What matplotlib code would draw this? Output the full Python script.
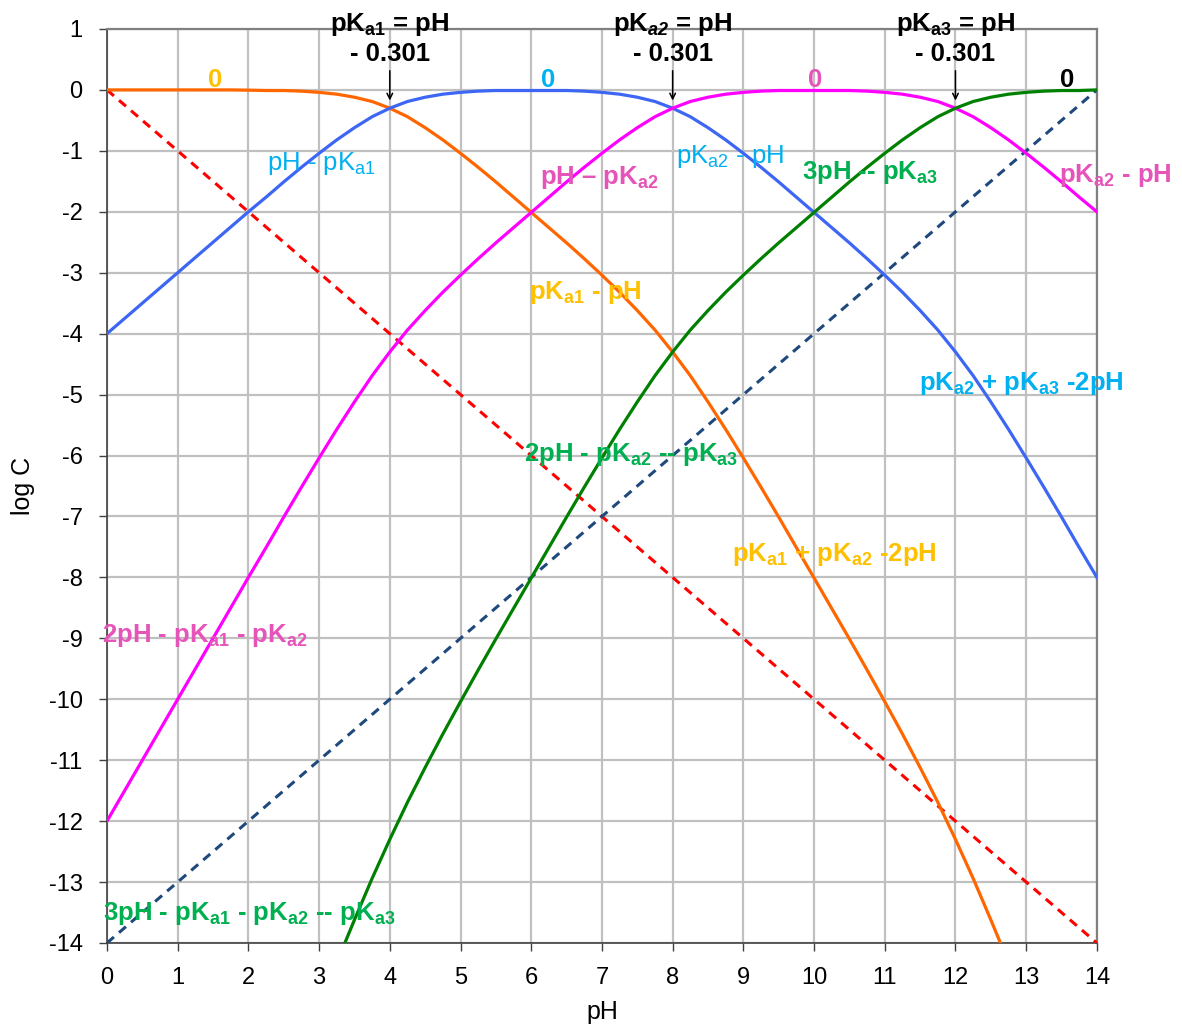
import matplotlib
matplotlib.use('Agg')
import matplotlib.pyplot as plt

plt.rcParams['font.family'] = ['Liberation Sans', 'DejaVu Sans']
plt.rcParams['mathtext.fontset'] = 'custom'
plt.rcParams['mathtext.rm'] = 'Liberation Sans'
plt.rcParams['mathtext.it'] = 'Liberation Sans:italic'
plt.rcParams['mathtext.bf'] = 'Liberation Sans:bold'
plt.rcParams['mathtext.bfit'] = 'Liberation Sans:bold:italic'
plt.rcParams['axes.unicode_minus'] = False

#############  data
ph = [0, 0.25, 0.5, 0.75, 1, 1.25, 1.5, 1.75, 2, 2.25, 2.5, 2.75, 3, 3.25, 3.5, 3.75,
      4, 4.25, 4.5, 4.75, 5, 5.25, 5.5, 5.75, 6, 6.25, 6.5, 6.75, 7, 7.25, 7.5, 7.75,
      8, 8.25, 8.5, 8.75, 9, 9.25, 9.5, 9.75, 10, 10.25, 10.5, 10.75, 11, 11.25, 11.5, 11.75,
      12, 12.25, 12.5, 12.75, 13, 13.25, 13.5, 13.75, 14]
log_h3a = [0.00, 0.00, 0.00, 0.00, 0.00, 0.00, 0.00, 0.00, -0.004, -0.01, -0.01, -0.02, -0.04, -0.07, -0.12, -0.19,
           -0.30, -0.44, -0.62, -0.82, -1.04, -1.27, -1.51, -1.76, -2.01, -2.26, -2.51, -2.77, -3.04, -3.32, -3.62, -3.94,
           -4.30, -4.69, -5.12, -5.57, -6.04, -6.52, -7.01, -7.51, -8.01, -8.51, -9.01, -9.52, -10.04, -10.57, -11.12, -11.69,
           -12.30, -12.94, -13.62, -14.32, -15.04, -15.77, -16.51, -17.26, -18.00]
log_h2a = [-4.00, -3.75, -3.50, -3.25, -3.00, -2.75, -2.50, -2.25, -2.00, -1.76, -1.51, -1.27, -1.04, -0.82, -0.62, -0.44,
           -0.30, -0.19, -0.12, -0.07, -0.04, -0.02, -0.01, -0.01, -0.01, -0.01, -0.01, -0.02, -0.04, -0.07, -0.12, -0.19,
           -0.30, -0.44, -0.62, -0.82, -1.04, -1.27, -1.51, -1.76, -2.01, -2.26, -2.51, -2.77, -3.04, -3.32, -3.62, -3.94,
           -4.30, -4.69, -5.12, -5.57, -6.04, -6.52, -7.01, -7.51, -8.00]
log_ha = [-12.00, -11.50, -11.00, -10.50, -10.00, -9.50, -9.00, -8.50, -8.00, -7.51, -7.01, -6.52, -6.04, -5.57, -5.12, -4.69,
          -4.30, -3.94, -3.62, -3.32, -3.04, -2.77, -2.51, -2.26, -2.01, -1.76, -1.51, -1.27, -1.04, -0.82, -0.62, -0.44,
          -0.30, -0.19, -0.12, -0.07, -0.04, -0.02, -0.01, -0.01, -0.01, -0.01, -0.01, -0.02, -0.04, -0.07, -0.12, -0.19,
          -0.30, -0.44, -0.62, -0.82, -1.04, -1.27, -1.51, -1.76, -2.00]
log_a = [-24.00, -23.25, -22.50, -21.75, -21.00, -20.25, -19.50, -18.75, -18.00, -17.26, -16.51, -15.77, -15.04, -14.32, -13.62, -12.94,
         -12.30, -11.69, -11.12, -10.57, -10.04, -9.52, -9.01, -8.51, -8.01, -7.51, -7.01, -6.52, -6.04, -5.57, -5.12, -4.69,
         -4.30, -3.94, -3.62, -3.32, -3.04, -2.77, -2.51, -2.26, -2.01, -1.76, -1.51, -1.27, -1.04, -0.82, -0.62, -0.44,
         -0.30, -0.19, -0.12, -0.07, -0.04, -0.02, -0.01, -0.01, 0.00]
ph_line = [0, 14]
log_hplus = [0, -14]
log_oh = [-14, 0]
pka = [4, 8, 12]
pka_names = [r'pK$_{\mathbf{a1}}$ = pH', r'pK$_{\mathbfit{a2}}$ = pH', r'pK$_{\mathbf{a3}}$ = pH']

ORANGE_T = '#FFC000'
CYAN_T = '#00B0F0'
PINK_T = '#E653B9'
GREEN_T = '#00B050'

# (x, y, text, colour, bold)
labels = [
    (1.53, 0.16, '0', ORANGE_T, True),
    (6.24, 0.16, '0', CYAN_T, True),
    (10.01, 0.16, '0', PINK_T, True),
    (13.58, 0.16, '0', 'black', True),
    (2.26, -1.2, r'pH - pK$_{\mathrm{a1}}$', CYAN_T, False),
    (6.12, -1.43, r'pH – pK$_{\mathbf{a2}}$', PINK_T, True),
    (8.05, -1.1, r'pK$_{\mathrm{a2}}$ - pH', CYAN_T, False),
    (9.83, -1.35, r'3pH -- pK$_{\mathbf{a3}}$', GREEN_T, True),
    (13.47, -1.4, r'pK$_{\mathbf{a2}}$ - pH', PINK_T, True),
    (5.97, -3.32, r'pK$_{\mathbf{a1}}$ - pH', ORANGE_T, True),
    (11.49, -4.81, r'pK$_{\mathbf{a2}}$ + pK$_{\mathbf{a3}}$ -2pH', CYAN_T, True),
    (5.9, -5.99, r'2pH - pK$_{\mathbf{a2}}$ -- pK$_{\mathbf{a3}}$', GREEN_T, True),
    (8.84, -7.63, r'pK$_{\mathbf{a1}}$ + pK$_{\mathbf{a2}}$ -2pH', ORANGE_T, True),
    (-0.07, -8.95, r'2pH - pK$_{\mathbf{a1}}$ - pK$_{\mathbf{a2}}$', PINK_T, True),
    (-0.05, -13.51, r'3pH - pK$_{\mathbf{a1}}$ - pK$_{\mathbf{a2}}$ -- pK$_{\mathbf{a3}}$', GREEN_T, True),
]
#########################################################

fig = plt.figure(figsize=(11.82, 10.35), dpi=100)
ax = fig.add_axes([0.0905, 0.0889, 0.8375, 0.8831])

ax.plot(ph_line, log_hplus, color='#FF0000', lw=2.2, ls=(0, (3, 2.2)), zorder=3)
ax.plot(ph_line, log_oh, color='#1F497D', lw=2.2, ls=(0, (3, 2.2)), zorder=3)
ax.plot(ph, log_h3a, color='#FF6600', lw=2.3, zorder=4)
ax.plot(ph, log_h2a, color='#3D66F5', lw=2.3, zorder=4)
ax.plot(ph, log_ha, color='#FF00FF', lw=2.3, zorder=4)
ax.plot(ph, log_a, color='#008000', lw=2.3, zorder=4)

ax.set_xlim(0, 14)
ax.set_ylim(-14, 1)
ax.set_xticks(range(0, 15))
ax.set_yticks(range(-14, 2))
ax.grid(True, color='#C0C0C0', lw=1.6)
ax.set_axisbelow(True)
ax.tick_params(labelsize=17, length=6, width=1, color='#404040', pad=11.5)
for s in ['left', 'bottom']:
    ax.spines[s].set_color('#404040')
    ax.spines[s].set_linewidth(1.2)
for s in ['top', 'right']:
    ax.spines[s].set_color('#808080')
    ax.spines[s].set_linewidth(1.6)
ax.set_xlabel('pH', fontsize=18, labelpad=8)
ax.set_ylabel('log C', fontsize=18, labelpad=10)

for x, y, t, c, b in labels:
    ha = 'center' if t == '0' else 'left'
    ax.text(x, y, t, color=c, fontsize=18.5, fontweight='bold' if b else 'normal',
            ha=ha, va='center', zorder=6)

for p, name in zip(pka, pka_names):
    ax.text(p, 0.85, name + '\n- 0.301', fontsize=18.5, fontweight='bold',
            ha='center', va='center', multialignment='center', linespacing=1.2, zorder=6)
    ax.annotate('', xy=(p, -0.22), xytext=(p, 0.36),
                arrowprops=dict(arrowstyle='->', color='black', lw=1.1), zorder=6)

fig.savefig('out.png', dpi=100)
